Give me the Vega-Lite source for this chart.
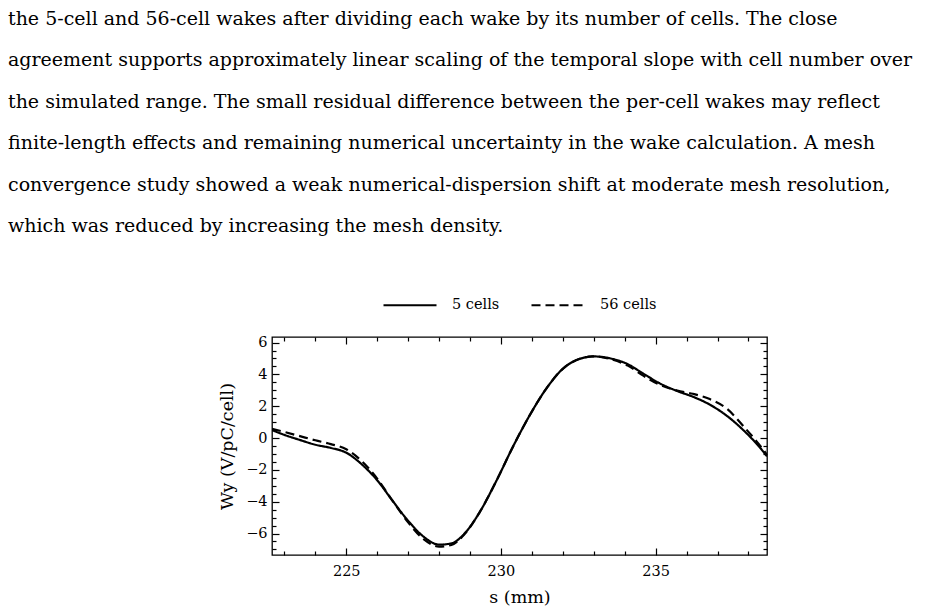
{
  "$schema": "https://vega.github.io/schema/vega-lite/v6.json",
  "autosize": "none",
  "padding": {"left": 272, "top": 337, "right": 177, "bottom": 60},
  "width": 495,
  "height": 218,
  "background": "white",
  "title": {
    "text": [
      "the 5-cell and 56-cell wakes after dividing each wake by its number of cells.  The close",
      "agreement supports approximately linear scaling of the temporal slope with cell number over",
      "the simulated range.  The small residual difference between the per-cell wakes may reflect",
      "finite-length effects and remaining numerical uncertainty in the wake calculation.  A mesh",
      "convergence study showed a weak numerical-dispersion shift at moderate mesh resolution,",
      "which was reduced by increasing the mesh density."
    ],
    "orient": "top",
    "anchor": "start",
    "frame": "group",
    "dx": -264,
    "dy": -41,
    "offset": 0,
    "font": "DejaVu Serif",
    "fontSize": 19,
    "fontWeight": 400,
    "color": "black",
    "lineHeight": 41.5
  },
  "data": {
    "values": [
      {"s": 222.6, "W": 0.5, "series": "5 cells"},
      {"s": 223.0, "W": 0.2, "series": "5 cells"},
      {"s": 223.5, "W": -0.12, "series": "5 cells"},
      {"s": 224.0, "W": -0.42, "series": "5 cells"},
      {"s": 224.5, "W": -0.62, "series": "5 cells"},
      {"s": 225.0, "W": -0.92, "series": "5 cells"},
      {"s": 225.5, "W": -1.65, "series": "5 cells"},
      {"s": 226.0, "W": -2.65, "series": "5 cells"},
      {"s": 226.5, "W": -3.95, "series": "5 cells"},
      {"s": 227.0, "W": -5.2, "series": "5 cells"},
      {"s": 227.5, "W": -6.2, "series": "5 cells"},
      {"s": 228.0, "W": -6.7, "series": "5 cells"},
      {"s": 228.4, "W": -6.62, "series": "5 cells"},
      {"s": 228.8, "W": -6.05, "series": "5 cells"},
      {"s": 229.3, "W": -4.7, "series": "5 cells"},
      {"s": 229.85, "W": -2.7, "series": "5 cells"},
      {"s": 230.4, "W": -0.5, "series": "5 cells"},
      {"s": 230.95, "W": 1.5, "series": "5 cells"},
      {"s": 231.5, "W": 3.2, "series": "5 cells"},
      {"s": 232.0, "W": 4.35, "series": "5 cells"},
      {"s": 232.55, "W": 4.98, "series": "5 cells"},
      {"s": 233.0, "W": 5.13, "series": "5 cells"},
      {"s": 233.5, "W": 5.02, "series": "5 cells"},
      {"s": 234.1, "W": 4.64, "series": "5 cells"},
      {"s": 234.6, "W": 4.05, "series": "5 cells"},
      {"s": 235.15, "W": 3.42, "series": "5 cells"},
      {"s": 235.7, "W": 2.95, "series": "5 cells"},
      {"s": 236.2, "W": 2.6, "series": "5 cells"},
      {"s": 236.75, "W": 2.1, "series": "5 cells"},
      {"s": 237.3, "W": 1.4, "series": "5 cells"},
      {"s": 237.85, "W": 0.47, "series": "5 cells"},
      {"s": 238.35, "W": -0.55, "series": "5 cells"},
      {"s": 238.6, "W": -1.15, "series": "5 cells"},
      {"s": 222.6, "W": 0.58, "series": "56 cells"},
      {"s": 223.0, "W": 0.38, "series": "56 cells"},
      {"s": 223.5, "W": 0.12, "series": "56 cells"},
      {"s": 224.0, "W": -0.14, "series": "56 cells"},
      {"s": 224.5, "W": -0.38, "series": "56 cells"},
      {"s": 225.0, "W": -0.7, "series": "56 cells"},
      {"s": 225.5, "W": -1.45, "series": "56 cells"},
      {"s": 226.0, "W": -2.55, "series": "56 cells"},
      {"s": 226.5, "W": -3.95, "series": "56 cells"},
      {"s": 227.0, "W": -5.3, "series": "56 cells"},
      {"s": 227.5, "W": -6.35, "series": "56 cells"},
      {"s": 228.0, "W": -6.82, "series": "56 cells"},
      {"s": 228.4, "W": -6.72, "series": "56 cells"},
      {"s": 228.8, "W": -6.1, "series": "56 cells"},
      {"s": 229.3, "W": -4.7, "series": "56 cells"},
      {"s": 229.85, "W": -2.7, "series": "56 cells"},
      {"s": 230.4, "W": -0.5, "series": "56 cells"},
      {"s": 230.95, "W": 1.5, "series": "56 cells"},
      {"s": 231.5, "W": 3.2, "series": "56 cells"},
      {"s": 232.0, "W": 4.35, "series": "56 cells"},
      {"s": 232.55, "W": 4.98, "series": "56 cells"},
      {"s": 233.0, "W": 5.13, "series": "56 cells"},
      {"s": 233.5, "W": 4.98, "series": "56 cells"},
      {"s": 234.1, "W": 4.55, "series": "56 cells"},
      {"s": 234.6, "W": 3.92, "series": "56 cells"},
      {"s": 235.15, "W": 3.33, "series": "56 cells"},
      {"s": 235.7, "W": 2.98, "series": "56 cells"},
      {"s": 236.2, "W": 2.78, "series": "56 cells"},
      {"s": 236.75, "W": 2.45, "series": "56 cells"},
      {"s": 237.3, "W": 1.85, "series": "56 cells"},
      {"s": 237.85, "W": 0.72, "series": "56 cells"},
      {"s": 238.35, "W": -0.42, "series": "56 cells"},
      {"s": 238.6, "W": -1.05, "series": "56 cells"}
    ]
  },
  "layer": [
    {
      "transform": [{"filter": "datum.series === '56 cells'"}],
      "mark": {"type": "line", "interpolate": "monotone", "color": "black", "strokeWidth": 2.2, "clip": true},
      "encoding": {
        "x": {
          "field": "s", "type": "quantitative",
          "scale": {"domain": [222.6, 238.6], "nice": false, "zero": false},
          "axis": {
            "orient": "top", "labels": false, "title": null, "domain": false, "grid": false,
            "values": [223, 224, 225, 226, 227, 228, 229, 230, 231, 232, 233, 234, 235, 236, 237, 238],
            "tickColor": "black", "tickWidth": 1.2,
            "tickSize": {"condition": {"test": "datum.value % 5 === 0", "value": -7}, "value": -4}
          }
        },
        "y": {
          "field": "W", "type": "quantitative",
          "scale": {"domain": [-7.35, 6.35], "nice": false, "zero": false},
          "axis": {
            "orient": "right", "labels": false, "title": null, "domain": false, "grid": false,
            "values": [-7, -6.5, -6, -5.5, -5, -4.5, -4, -3.5, -3, -2.5, -2, -1.5, -1, -0.5, 0, 0.5, 1, 1.5, 2, 2.5, 3, 3.5, 4, 4.5, 5, 5.5, 6],
            "tickColor": "black", "tickWidth": 1.2,
            "tickSize": {"condition": {"test": "datum.value % 2 === 0", "value": -7}, "value": -4}
          }
        },
        "strokeDash": {
          "field": "series", "type": "nominal",
          "scale": {"domain": ["5 cells", "56 cells"], "range": [[1, 0], [9, 5]]},
          "legend": {
            "orient": "top", "direction": "horizontal", "title": null, "offset": 24,
            "symbolType": "stroke", "symbolSize": 2809, "symbolStrokeWidth": 2.2, "symbolStrokeColor": "black",
            "labelFont": "DejaVu Serif", "labelFontWeight": 400, "labelFontSize": 14.5, "labelColor": "black", "labelOffset": 14,
            "columnPadding": 27
          }
        }
      }
    },
    {
      "transform": [{"filter": "datum.series === '5 cells'"}],
      "mark": {"type": "line", "interpolate": "monotone", "color": "black", "strokeWidth": 2.2, "clip": true},
      "encoding": {
        "x": {
          "field": "s", "type": "quantitative",
          "axis": {
            "orient": "bottom", "title": "s (mm)", "domain": false, "grid": false,
            "values": [223, 224, 225, 226, 227, 228, 229, 230, 231, 232, 233, 234, 235, 236, 237, 238],
            "labelExpr": "datum.value % 5 === 0 ? datum.label : ''",
            "labelOverlap": false,
            "labelFont": "DejaVu Serif", "labelFontWeight": 400, "labelFontSize": 14.5, "labelColor": "black", "labelPadding": 16,
            "titleFont": "DejaVu Serif", "titleFontSize": 17.5, "titleFontWeight": 400, "titleColor": "black", "titlePadding": 8,
            "tickColor": "black", "tickWidth": 1.2,
            "tickSize": {"condition": {"test": "datum.value % 5 === 0", "value": -7}, "value": -4}
          }
        },
        "y": {
          "field": "W", "type": "quantitative",
          "axis": {
            "orient": "left", "title": "Wy (V/pC/cell)", "domain": false, "grid": false,
            "values": [-7, -6.5, -6, -5.5, -5, -4.5, -4, -3.5, -3, -2.5, -2, -1.5, -1, -0.5, 0, 0.5, 1, 1.5, 2, 2.5, 3, 3.5, 4, 4.5, 5, 5.5, 6],
            "labelExpr": "datum.value % 2 === 0 ? format(datum.value, 'd') : ''",
            "labelOverlap": false,
            "labelFont": "DejaVu Serif", "labelFontWeight": 400, "labelFontSize": 14.5, "labelColor": "black", "labelPadding": 12,
            "titleFont": "DejaVu Serif", "titleFontSize": 17.5, "titleFontWeight": 400, "titleColor": "black", "titlePadding": 9,
            "tickColor": "black", "tickWidth": 1.2,
            "tickSize": {"condition": {"test": "datum.value % 2 === 0", "value": -7}, "value": -4}
          }
        },
        "strokeDash": {"field": "series", "type": "nominal"}
      }
    }
  ],
  "resolve": {"axis": {"x": "independent", "y": "independent"}},
  "config": {
    "font": "DejaVu Serif",
    "view": {"stroke": "black", "strokeWidth": 1.3},
    "legend": {"layout": {"top": {"anchor": "middle"}}}
  }
}
